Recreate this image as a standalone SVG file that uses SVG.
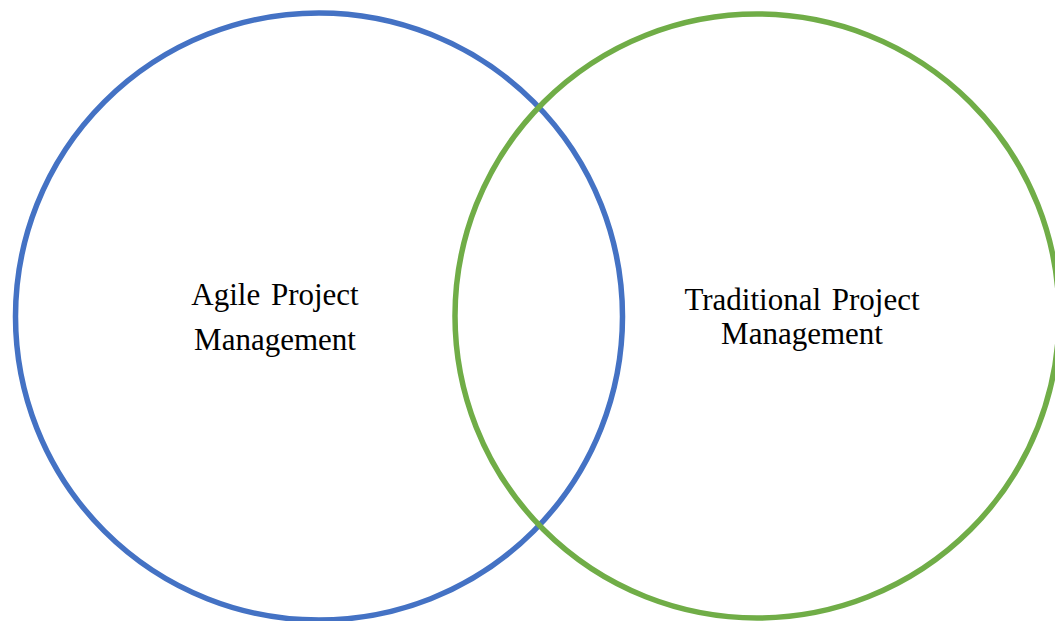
<svg xmlns="http://www.w3.org/2000/svg" width="1055" height="621" viewBox="0 0 1055 621">
  <style>
    .ring { fill: none; stroke-width: 5.5; }
    .label { font-family: "Liberation Serif", "Times New Roman", serif; font-size: 31px; fill: #000; text-anchor: middle; word-spacing: 3px; }
  </style>
  <rect x="0" y="0" width="1055" height="621" fill="#ffffff"/>
  <g id="agile">
    <circle class="ring" cx="319" cy="316.5" r="303.5" stroke="#4472C4"/>
    <text class="label" x="275" y="305">Agile Project</text>
    <text class="label" x="275" y="350">Management</text>
  </g>
  <g id="traditional">
    <circle class="ring" cx="757" cy="316" r="302" stroke="#70AD47"/>
    <text class="label" x="802" y="310">Traditional Project</text>
    <text class="label" x="802" y="344">Management</text>
  </g>
  <g id="connectors"/>
</svg>
